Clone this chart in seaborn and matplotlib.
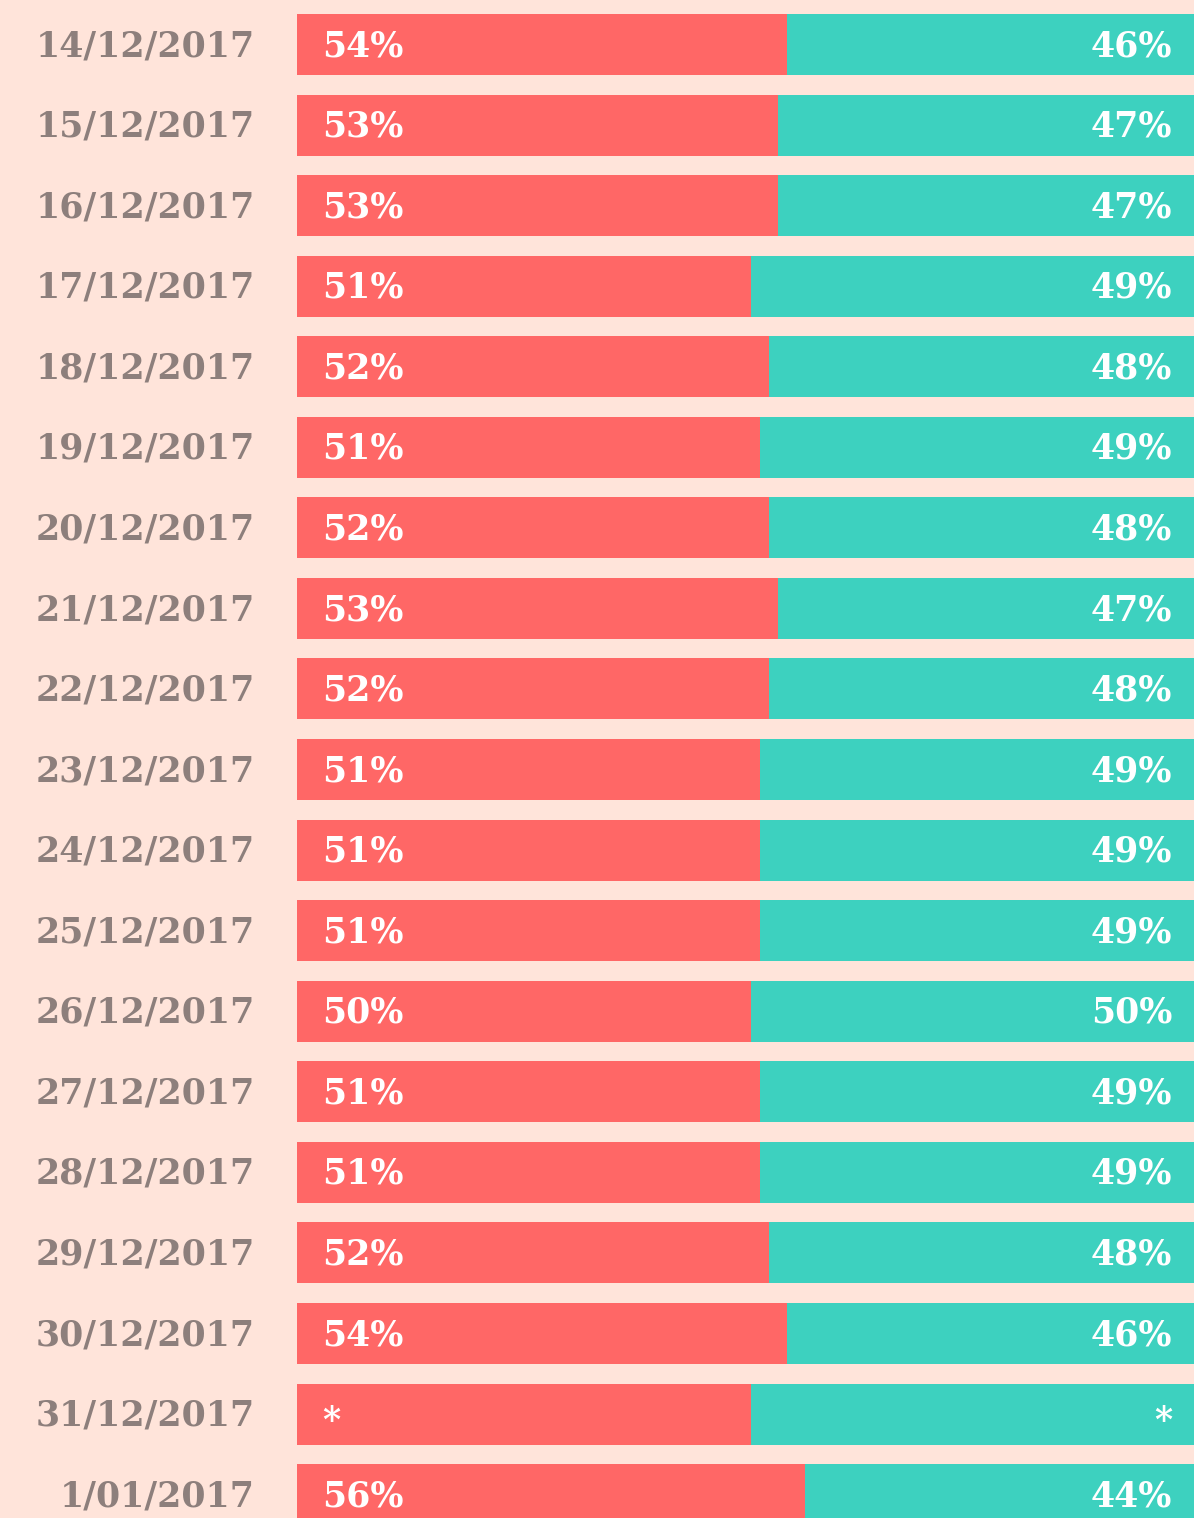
import matplotlib.pyplot as plt
import pandas as pd
import seaborn as sns

# data
dates = ["14/12/2017", "15/12/2017", "16/12/2017", "17/12/2017", "18/12/2017",
         "19/12/2017", "20/12/2017", "21/12/2017", "22/12/2017", "23/12/2017",
         "24/12/2017", "25/12/2017", "26/12/2017", "27/12/2017", "28/12/2017",
         "29/12/2017", "30/12/2017", "31/12/2017", "1/01/2017"]
# bar length of the red share as drawn
red_share = [54, 53, 53, 50, 52, 51, 52, 53, 52, 51, 51, 51, 50, 51, 51, 52, 54, 50, 56]
red_labels = ["54%", "53%", "53%", "51%", "52%", "51%", "52%", "53%", "52%", "51%",
              "51%", "51%", "50%", "51%", "51%", "52%", "54%", "*", "56%"]
teal_labels = ["46%", "47%", "47%", "49%", "48%", "49%", "48%", "47%", "48%", "49%",
               "49%", "49%", "50%", "49%", "49%", "48%", "46%", "*", "44%"]
total = [100] * len(dates)

RED = "#FF6766"
TEAL = "#3DD1BF"
BG = "#FFE4DA"
DATE_COLOR = "#8D7F7C"
FONT = ["DejaVu Serif"]


def main():
    df = pd.DataFrame({"date": dates, "red": red_share, "total": total})

    sns.set_theme(style="white")
    fig = plt.figure(figsize=(11.94, 15.18), dpi=100)
    fig.patch.set_facecolor(BG)
    ax = fig.add_axes([0, 0, 1, 1])
    ax.set_facecolor(BG)

    width = 0.757
    sns.barplot(data=df, y="date", x="total", color=TEAL, orient="h",
                width=width, saturation=1, linewidth=0, ax=ax)
    sns.barplot(data=df, y="date", x="red", color=RED, orient="h",
                width=width, saturation=1, linewidth=0, ax=ax)

    ax.set_xlim(-32.7, 98.8)
    ax.set_ylim(18.29, -0.552)
    ax.axis("off")

    for i, d in enumerate(dates):
        # asterisks sit a little lower in the bar
        dy = 0.08 if red_labels[i] == "*" else 0.02
        ax.text(-4.6, i + 0.02, d, ha="right", va="center", fontsize=25,
                fontweight="bold", color=DATE_COLOR, family=FONT)
        ax.text(2.75, i + dy, red_labels[i], ha="left", va="center", fontsize=25,
                fontweight="bold", color="white", family=FONT)
        ax.text(96.4, i + dy, teal_labels[i], ha="right", va="center", fontsize=25,
                fontweight="bold", color="white", family=FONT)

    fig.savefig("out.png", dpi=100, facecolor=BG)


if __name__ == '__main__':
    main()
